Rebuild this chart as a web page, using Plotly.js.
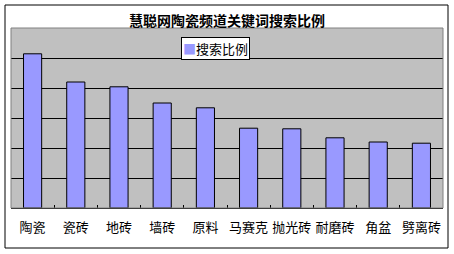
<!DOCTYPE html>
<html><head><meta charset="utf-8">
<script src="https://cdn.plot.ly/plotly-3.0.1.min.js"></script>
<style>html,body{margin:0;padding:0;background:#fff;}#chart{width:454px;height:254px;}</style>
</head><body><div id="chart"></div>
<script>
const categories = ["陶瓷","瓷砖","地砖","墙砖","原料","马赛克","抛光砖","耐磨砖","角盆","劈离砖"];
const searchRatio = [25.7, 21.0, 20.2, 17.5, 16.7, 13.3, 13.2, 11.7, 11.0, 10.8];
const seriesName = "搜索比例";
const chartTitle = "慧聪网陶瓷频道关键词搜索比例";

const font = "SimSun, 'Noto Sans CJK SC', sans-serif";
Plotly.newPlot('chart', [{
  type: 'bar', x: categories, y: searchRatio, name: seriesName,
  marker: {color: '#9999FF', line: {color: '#000', width: 1}},
  showlegend: false
}], {
  width: 454, height: 254,
  margin: {l: 11, r: 11, t: 28, b: 46},
  paper_bgcolor: '#fff', plot_bgcolor: '#C0C0C0',
  bargap: 0.58,
  title: {text: '<b>' + chartTitle + '</b>', font: {family: font, size: 14, color: '#000'}, xref: 'paper', x: 0.5, xanchor: 'center', y: 0.918, yanchor: 'middle'},
  xaxis: {showline: true, linecolor: '#000', linewidth: 1, ticks: 'inside', ticklen: 3, tickcolor: '#000', tickson: 'boundaries',
    tickangle: 0, ticklabelstandoff: 7, tickfont: {family: font, size: 13, color: '#000'}, showgrid: false, fixedrange: true},
  yaxis: {range: [0, 30], dtick: 5, showticklabels: false, showgrid: true, gridcolor: '#000', gridwidth: 1, zeroline: false, showline: false, fixedrange: true},
  annotations: [{
    xref: 'paper', yref: 'paper', x: (215.5 - 11) / 432, y: 1 - 20.5/180, xanchor: 'center', yanchor: 'middle', showarrow: false,
    text: '<span style="color:#9999FF">■</span>' + seriesName,
    font: {family: font, size: 13, color: '#000'}, bgcolor: '#fff', bordercolor: '#000', borderwidth: 1, borderpad: 1
  }],
  shapes: [
    {type: 'rect', xref: 'paper', yref: 'paper', x0: 0, x1: 1, y0: 0, y1: 1, line: {color: '#808080', width: 1}},
    {type: 'rect', xref: 'paper', yref: 'paper', x0: -6/432, x1: 437/432, y0: -40/180, y1: 203/180, line: {color: '#000', width: 1}}
  ]
}, {staticPlot: true});
</script></body></html>
